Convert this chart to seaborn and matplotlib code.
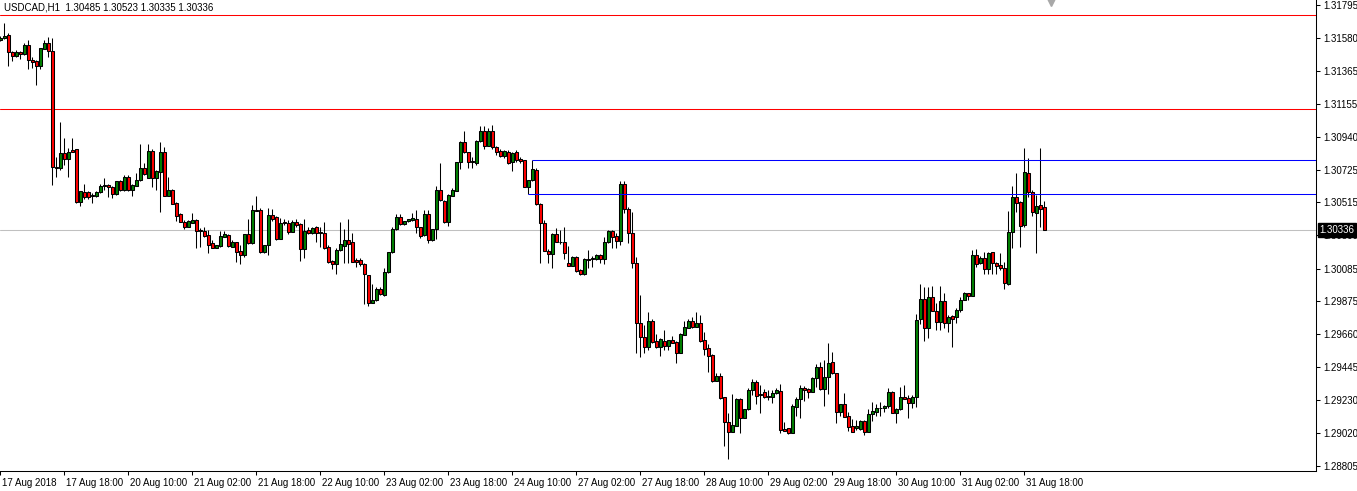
import numpy as np
import pandas as pd
import matplotlib
matplotlib.use("Agg")
import matplotlib.pyplot as plt
import matplotlib.transforms as mtransforms
import seaborn as sns

symbol_title = "USDCAD,H1  1.30485 1.30523 1.30335 1.30336"

opens = [
    1.31568, 1.31581, 1.31600, 1.31490, 1.31464, 1.31490, 1.31477, 1.31535, 1.31438, 1.31431,
    1.31399, 1.31509, 1.31548, 1.31496, 1.30744, 1.30737, 1.30835, 1.30796, 1.30854, 1.30861,
    1.30517, 1.30582, 1.30582, 1.30562, 1.30556, 1.30582, 1.30621, 1.30627, 1.30614, 1.30569,
    1.30653, 1.30595, 1.30679, 1.30595, 1.30621, 1.30660, 1.30737, 1.30673, 1.30848, 1.30673,
    1.30711, 1.30841, 1.30556, 1.30595, 1.30510, 1.30439, 1.30387, 1.30355, 1.30381, 1.30400,
    1.30335, 1.30329, 1.30303, 1.30251, 1.30218, 1.30231, 1.30290, 1.30303, 1.30225, 1.30257,
    1.30199, 1.30173, 1.30309, 1.30251, 1.30465, 1.30465, 1.30193, 1.30238, 1.30433, 1.30420,
    1.30277, 1.30387, 1.30381, 1.30322, 1.30387, 1.30374, 1.30212, 1.30335, 1.30316, 1.30355,
    1.30322, 1.30316, 1.30225, 1.30134, 1.30115, 1.30206, 1.30231, 1.30270, 1.30257, 1.30141,
    1.30141, 1.30115, 1.30043, 1.29862, 1.29881, 1.29953, 1.29914, 1.30063, 1.30193, 1.30342,
    1.30420, 1.30374, 1.30394, 1.30400, 1.30407, 1.30355, 1.30303, 1.30439, 1.30270, 1.30342,
    1.30595, 1.30523, 1.30387, 1.30556, 1.30588, 1.30776, 1.30906, 1.30841, 1.30783, 1.30770,
    1.30912, 1.30977, 1.30880, 1.30977, 1.30874, 1.30848, 1.30815, 1.30841, 1.30776, 1.30841,
    1.30796, 1.30789, 1.30614, 1.30660, 1.30724, 1.30504, 1.30381, 1.30199, 1.30180, 1.30309,
    1.30258, 1.30257, 1.30121, 1.30102, 1.30160, 1.30076, 1.30050, 1.30147, 1.30147, 1.30147,
    1.30173, 1.30147, 1.30257, 1.30329, 1.30296, 1.30264, 1.30634, 1.30471, 1.30316, 1.30121,
    1.29732, 1.29641, 1.29576, 1.29745, 1.29615, 1.29576, 1.29615, 1.29583, 1.29622, 1.29609,
    1.29537, 1.29654, 1.29700, 1.29745, 1.29706, 1.29732, 1.29622, 1.29570, 1.29525, 1.29356,
    1.29388, 1.29252, 1.29090, 1.29025, 1.29064, 1.29239, 1.29116, 1.29174, 1.29298, 1.29349,
    1.29272, 1.29285, 1.29259, 1.29252, 1.29278, 1.29291, 1.29045, 1.29051, 1.29019, 1.29187,
    1.29239, 1.29310, 1.29304, 1.29285, 1.29375, 1.29447, 1.29304, 1.29382, 1.29479, 1.29408,
    1.29155, 1.29207, 1.29129, 1.29064, 1.29051, 1.29045, 1.29096, 1.29025, 1.29142, 1.29155,
    1.29181, 1.29181, 1.29194, 1.29285, 1.29148, 1.29174, 1.29252, 1.29246, 1.29213, 1.29252,
    1.29758, 1.29888, 1.29700, 1.29901, 1.29810, 1.29739, 1.29875, 1.29732, 1.29777, 1.29771,
    1.29816, 1.29881, 1.29927, 1.29907, 1.30173, 1.30121, 1.30154, 1.30082, 1.30193, 1.30121,
    1.30108, 1.30089, 1.29985, 1.30322, 1.30549, 1.30517, 1.30368, 1.30705, 1.30582, 1.30445,
    1.30497, 1.30485,
]

highs = [
    1.31594, 1.31678, 1.31613, 1.31496, 1.31503, 1.31496, 1.31548, 1.31568, 1.31457, 1.31438,
    1.31516, 1.31568, 1.31587, 1.31581, 1.30809, 1.31036, 1.30932, 1.30867, 1.30932, 1.30861,
    1.30588, 1.30634, 1.30588, 1.30575, 1.30588, 1.30634, 1.30673, 1.30634, 1.30621, 1.30653,
    1.30660, 1.30692, 1.30692, 1.30634, 1.30705, 1.30893, 1.30770, 1.30893, 1.30861, 1.30724,
    1.30906, 1.30874, 1.30679, 1.30601, 1.30517, 1.30445, 1.30400, 1.30400, 1.30445, 1.30407,
    1.30348, 1.30355, 1.30335, 1.30270, 1.30238, 1.30329, 1.30329, 1.30309, 1.30270, 1.30257,
    1.30238, 1.30309, 1.30407, 1.30497, 1.30556, 1.30478, 1.30238, 1.30478, 1.30471, 1.30426,
    1.30413, 1.30407, 1.30400, 1.30400, 1.30407, 1.30381, 1.30407, 1.30355, 1.30355, 1.30361,
    1.30355, 1.30387, 1.30238, 1.30141, 1.30218, 1.30387, 1.30342, 1.30407, 1.30316, 1.30154,
    1.30154, 1.30121, 1.30043, 1.29985, 1.29966, 1.29966, 1.30089, 1.30193, 1.30355, 1.30439,
    1.30439, 1.30394, 1.30407, 1.30445, 1.30465, 1.30355, 1.30465, 1.30465, 1.30342, 1.30621,
    1.30770, 1.30530, 1.30569, 1.30608, 1.30776, 1.30912, 1.30977, 1.30841, 1.30809, 1.30919,
    1.31010, 1.31010, 1.30997, 1.31016, 1.30880, 1.30861, 1.30854, 1.30854, 1.30841, 1.30854,
    1.30809, 1.30789, 1.30660, 1.30789, 1.30737, 1.30510, 1.30400, 1.30212, 1.30316, 1.30348,
    1.30335, 1.30355, 1.30231, 1.30167, 1.30167, 1.30082, 1.30154, 1.30206, 1.30167, 1.30180,
    1.30180, 1.30290, 1.30335, 1.30335, 1.30316, 1.30653, 1.30653, 1.30484, 1.30452, 1.30160,
    1.29914, 1.29719, 1.29803, 1.29758, 1.29661, 1.29635, 1.29687, 1.29622, 1.29648, 1.29615,
    1.29667, 1.29745, 1.29758, 1.29771, 1.29803, 1.29784, 1.29674, 1.29596, 1.29531, 1.29408,
    1.29408, 1.29252, 1.29148, 1.29272, 1.29246, 1.29246, 1.29174, 1.29310, 1.29369, 1.29362,
    1.29330, 1.29304, 1.29298, 1.29298, 1.29310, 1.29336, 1.29090, 1.29051, 1.29207, 1.29252,
    1.29330, 1.29323, 1.29310, 1.29382, 1.29466, 1.29479, 1.29492, 1.29602, 1.29544, 1.29408,
    1.29207, 1.29278, 1.29155, 1.29109, 1.29103, 1.29103, 1.29103, 1.29174, 1.29220, 1.29207,
    1.29220, 1.29200, 1.29310, 1.29291, 1.29181, 1.29317, 1.29330, 1.29265, 1.29265, 1.29790,
    1.29985, 1.29966, 1.29966, 1.29972, 1.29862, 1.29972, 1.29927, 1.29784, 1.29784, 1.29829,
    1.29901, 1.29933, 1.29927, 1.30206, 1.30212, 1.30167, 1.30193, 1.30193, 1.30193, 1.30128,
    1.30186, 1.30128, 1.30458, 1.30621, 1.30705, 1.30523, 1.30867, 1.30802, 1.30595, 1.30562,
    1.30867, 1.30523,
]

lows = [
    1.31561, 1.31574, 1.31399, 1.31431, 1.31457, 1.31444, 1.31470, 1.31379, 1.31386, 1.31276,
    1.31379, 1.31509, 1.31457, 1.30627, 1.30679, 1.30724, 1.30757, 1.30679, 1.30841, 1.30510,
    1.30491, 1.30536, 1.30536, 1.30510, 1.30549, 1.30575, 1.30595, 1.30549, 1.30543, 1.30562,
    1.30588, 1.30588, 1.30588, 1.30556, 1.30621, 1.30653, 1.30692, 1.30673, 1.30614, 1.30595,
    1.30452, 1.30556, 1.30556, 1.30504, 1.30394, 1.30387, 1.30342, 1.30355, 1.30381, 1.30218,
    1.30225, 1.30290, 1.30186, 1.30218, 1.30218, 1.30225, 1.30290, 1.30225, 1.30225, 1.30128,
    1.30115, 1.30160, 1.30244, 1.30244, 1.30458, 1.30186, 1.30186, 1.30173, 1.30394, 1.30270,
    1.30277, 1.30368, 1.30309, 1.30322, 1.30355, 1.30134, 1.30154, 1.30309, 1.30309, 1.30257,
    1.30225, 1.30212, 1.30121, 1.30082, 1.30050, 1.30199, 1.30121, 1.30121, 1.30128, 1.30095,
    1.30102, 1.29855, 1.29842, 1.29862, 1.29875, 1.29914, 1.29907, 1.30056, 1.30186, 1.30335,
    1.30368, 1.30368, 1.30387, 1.30394, 1.30316, 1.30283, 1.30296, 1.30251, 1.30264, 1.30277,
    1.30523, 1.30381, 1.30361, 1.30556, 1.30588, 1.30731, 1.30835, 1.30737, 1.30737, 1.30757,
    1.30906, 1.30861, 1.30880, 1.30861, 1.30822, 1.30809, 1.30802, 1.30763, 1.30718, 1.30776,
    1.30770, 1.30614, 1.30569, 1.30653, 1.30497, 1.30121, 1.30199, 1.30121, 1.30089, 1.30257,
    1.30244, 1.30147, 1.30102, 1.30102, 1.30063, 1.30043, 1.30043, 1.30089, 1.30095, 1.30141,
    1.30121, 1.30115, 1.30251, 1.30218, 1.30218, 1.30238, 1.30445, 1.30251, 1.30089, 1.29537,
    1.29512, 1.29537, 1.29557, 1.29602, 1.29570, 1.29518, 1.29557, 1.29557, 1.29602, 1.29473,
    1.29537, 1.29654, 1.29700, 1.29700, 1.29706, 1.29609, 1.29525, 1.29414, 1.29349, 1.29356,
    1.29239, 1.28934, 1.28850, 1.29025, 1.29064, 1.29019, 1.29116, 1.29168, 1.29265, 1.29207,
    1.29148, 1.29246, 1.29233, 1.29213, 1.29272, 1.29019, 1.29032, 1.29012, 1.29019, 1.29129,
    1.29116, 1.29226, 1.29246, 1.29285, 1.29317, 1.29298, 1.29194, 1.29272, 1.29401, 1.29083,
    1.29129, 1.29122, 1.29032, 1.29025, 1.29038, 1.29038, 1.29006, 1.29025, 1.29096, 1.29129,
    1.29129, 1.29155, 1.29181, 1.29148, 1.29083, 1.29168, 1.29239, 1.29116, 1.29181, 1.29187,
    1.29726, 1.29615, 1.29635, 1.29810, 1.29687, 1.29687, 1.29700, 1.29674, 1.29576, 1.29732,
    1.29803, 1.29881, 1.29881, 1.29907, 1.30095, 1.30115, 1.30050, 1.30050, 1.30050, 1.30050,
    1.30076, 1.29953, 1.29979, 1.30218, 1.30452, 1.30225, 1.30355, 1.30549, 1.30426, 1.30186,
    1.30355, 1.30335,
]

closes = [
    1.31581, 1.31594, 1.31490, 1.31464, 1.31490, 1.31477, 1.31535, 1.31438, 1.31425, 1.31399,
    1.31516, 1.31548, 1.31496, 1.30744, 1.30737, 1.30835, 1.30796, 1.30841, 1.30841, 1.30517,
    1.30588, 1.30549, 1.30549, 1.30556, 1.30582, 1.30621, 1.30627, 1.30614, 1.30569, 1.30653,
    1.30595, 1.30679, 1.30595, 1.30627, 1.30660, 1.30737, 1.30699, 1.30848, 1.30673, 1.30718,
    1.30841, 1.30556, 1.30595, 1.30504, 1.30426, 1.30387, 1.30355, 1.30394, 1.30400, 1.30329,
    1.30329, 1.30296, 1.30238, 1.30218, 1.30238, 1.30296, 1.30309, 1.30231, 1.30257, 1.30193,
    1.30173, 1.30309, 1.30251, 1.30465, 1.30458, 1.30193, 1.30238, 1.30433, 1.30407, 1.30277,
    1.30381, 1.30381, 1.30322, 1.30387, 1.30368, 1.30212, 1.30329, 1.30316, 1.30348, 1.30316,
    1.30316, 1.30218, 1.30128, 1.30115, 1.30206, 1.30244, 1.30270, 1.30244, 1.30128, 1.30128,
    1.30115, 1.30050, 1.29862, 1.29881, 1.29953, 1.29920, 1.30063, 1.30193, 1.30342, 1.30420,
    1.30374, 1.30394, 1.30407, 1.30413, 1.30355, 1.30296, 1.30439, 1.30270, 1.30342, 1.30595,
    1.30530, 1.30387, 1.30562, 1.30595, 1.30776, 1.30906, 1.30841, 1.30776, 1.30776, 1.30912,
    1.30977, 1.30880, 1.30977, 1.30874, 1.30841, 1.30815, 1.30848, 1.30770, 1.30835, 1.30789,
    1.30783, 1.30614, 1.30660, 1.30731, 1.30504, 1.30381, 1.30199, 1.30180, 1.30309, 1.30257,
    1.30256, 1.30186, 1.30102, 1.30160, 1.30069, 1.30050, 1.30147, 1.30141, 1.30154, 1.30173,
    1.30147, 1.30257, 1.30329, 1.30290, 1.30264, 1.30634, 1.30471, 1.30316, 1.30121, 1.29732,
    1.29641, 1.29576, 1.29745, 1.29609, 1.29576, 1.29628, 1.29583, 1.29622, 1.29602, 1.29537,
    1.29661, 1.29706, 1.29745, 1.29706, 1.29732, 1.29615, 1.29563, 1.29518, 1.29356, 1.29388,
    1.29246, 1.29090, 1.29025, 1.29071, 1.29239, 1.29116, 1.29174, 1.29298, 1.29349, 1.29259,
    1.29265, 1.29252, 1.29252, 1.29278, 1.29298, 1.29038, 1.29032, 1.29019, 1.29194, 1.29239,
    1.29310, 1.29298, 1.29285, 1.29375, 1.29447, 1.29304, 1.29382, 1.29473, 1.29408, 1.29155,
    1.29207, 1.29122, 1.29058, 1.29025, 1.29064, 1.29096, 1.29025, 1.29142, 1.29161, 1.29181,
    1.29179, 1.29194, 1.29285, 1.29148, 1.29174, 1.29252, 1.29239, 1.29213, 1.29252, 1.29752,
    1.29888, 1.29700, 1.29901, 1.29810, 1.29739, 1.29875, 1.29732, 1.29771, 1.29758, 1.29816,
    1.29881, 1.29927, 1.29907, 1.30173, 1.30115, 1.30154, 1.30082, 1.30186, 1.30121, 1.30102,
    1.30089, 1.29991, 1.30322, 1.30549, 1.30510, 1.30361, 1.30711, 1.30582, 1.30452, 1.30491,
    1.30471, 1.30336,
]

time_labels = [
    "17 Aug 2018", "17 Aug 18:00", "20 Aug 10:00", "21 Aug 02:00", "21 Aug 18:00",
    "22 Aug 10:00", "23 Aug 02:00", "23 Aug 18:00", "24 Aug 10:00", "27 Aug 02:00",
    "27 Aug 18:00", "28 Aug 10:00", "29 Aug 02:00", "29 Aug 18:00", "30 Aug 10:00",
    "31 Aug 02:00", "31 Aug 18:00",
]
bars_per_label = 16

price_ticks = [1.31795, 1.31580, 1.31365, 1.31155, 1.30940, 1.30725, 1.30515, 1.30300,
               1.30085, 1.29875, 1.29660, 1.29445, 1.29230, 1.29020, 1.28805]

red_levels = [1.31728, 1.31118]
blue_levels = [1.30787, 1.30567]
blue_start_bars = [133, 132]
current_price = 1.30336

# ---------------------------------------------------------------- styling
sns.set_theme(style="white")
plt.rcParams['font.family'] = ['Liberation Sans', 'DejaVu Sans']

df = pd.DataFrame({"open": opens, "high": highs, "low": lows, "close": closes})
df["bar"] = np.arange(len(df))
df["body"] = df["close"] - df["open"]
df["color"] = np.where(df["close"] >= df["open"], "#008000", "#FF0000")

W, H = 1357, 491
fig = plt.figure(figsize=(W / 100, H / 100), dpi=100, facecolor="white")
ax = fig.add_axes([0, 20 / H, 1315.5 / W, 471 / H])
ax.set_facecolor("white")

# horizontal levels
for lv in red_levels:
    ax.axhline(lv, color="#FF0000", lw=0.75, zorder=1)
ax.axhline(current_price, color="#C0C0C0", lw=0.75, zorder=1)

# candles
ax.vlines(df["bar"], df["low"], df["high"], color="black", lw=0.75, zorder=2)
ax.bar(df["bar"], df["body"], bottom=df["open"], width=0.72,
       color=df["color"], edgecolor="black", linewidth=0.75, zorder=3)

xmax = (1315.5 - 0.3) / 4
for lv, sb in zip(blue_levels, blue_start_bars):
    ax.hlines(lv, sb, xmax + 5, color="#0000FF", lw=0.75, zorder=4)

ax.set_xlim(-0.075, xmax)
ax.set_ylim(1.28772, 1.31827)

# axes frame
for s in ["top", "left"]:
    ax.spines[s].set_visible(False)
for s in ["right", "bottom"]:
    ax.spines[s].set_color("black")
    ax.spines[s].set_linewidth(0.75)
ax.grid(False)

# y axis on the right
ax.yaxis.tick_right()
ax.set_yticks(price_ticks)
ax.set_yticklabels([f"{v:.5f}" for v in price_ticks])
ax.tick_params(axis="y", which="both", right=True, left=False, direction="out",
               length=2.8, width=0.75, pad=2.5, labelsize=7, colors="black")

# x axis
ax.set_xticks(np.arange(len(time_labels)) * bars_per_label)
ax.set_xticklabels(time_labels, ha="left")
ax.tick_params(axis="x", bottom=True, direction="out", length=2.8, width=0.75,
               pad=2.5, labelsize=7, colors="black")
off = mtransforms.ScaledTranslation(2 / 100, 0, fig.dpi_scale_trans)
for lbl in ax.get_xticklabels():
    lbl.set_transform(lbl.get_transform() + off)

# symbol / OHLC header
fig.text(4 / W, 1 - 8 / H, symbol_title, fontsize=7, color="black",
         ha="left", va="center")

# current price tag
trans = mtransforms.blended_transform_factory(ax.transAxes, ax.transData)
tag_off = mtransforms.ScaledTranslation(4 / 100, 0, fig.dpi_scale_trans)
ax.text(1.0, current_price, f"{current_price:.5f}", transform=trans + tag_off,
        color="white", fontsize=7, ha="left", va="center", clip_on=False, zorder=10,
        bbox=dict(boxstyle="square,pad=0.2", fc="black", ec="black"))

# chart-shift marker
ax.plot([1051 / 1315.5], [1 - 2 / 471], marker="v", ms=6, color="#A8A8A8",
        transform=ax.transAxes, clip_on=False, zorder=10)

fig.savefig("out.png", dpi=100, facecolor="white")
